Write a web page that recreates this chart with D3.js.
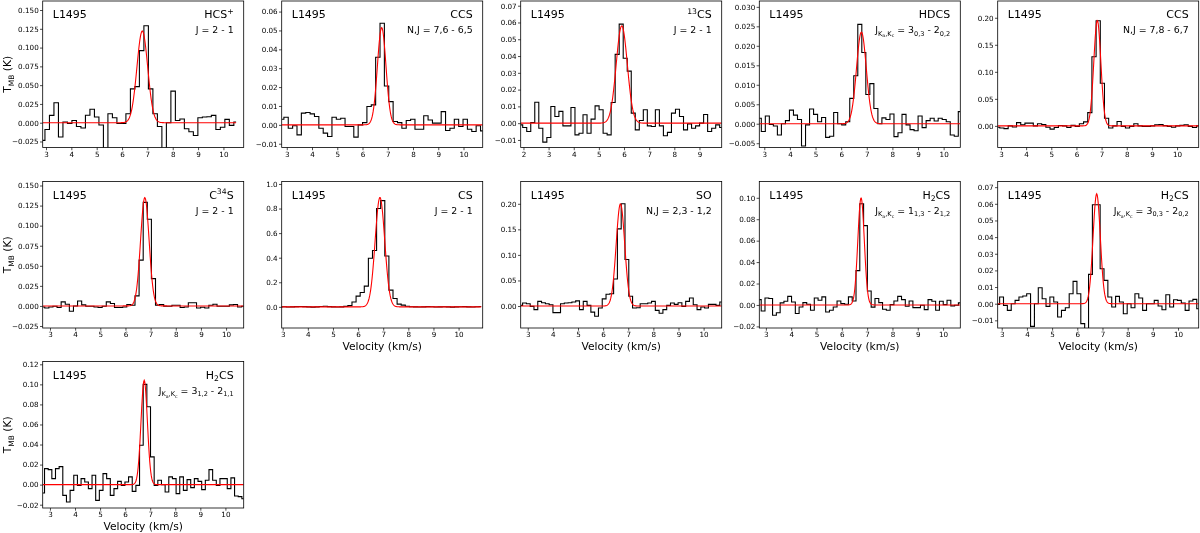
<!DOCTYPE html>
<html><head><meta charset="utf-8">
<script src="https://cdn.jsdelivr.net/npm/d3@7"></script>
<style>
body{margin:0;background:#fff}
svg{display:block;will-change:transform}
text{font-family:"DejaVu Sans",sans-serif;fill:#000}
</style>
</head><body>
<svg id="chart" width="1200" height="533"></svg>
<script>
// ---------------- DATA ----------------
const sourceName = "L1495";

// species label segments: [text, style]  (style: n / sup / sub / subsub)
const speciesLabels = [
  [["HCS","n"],["+","sup"]],
  [["CCS","n"]],
  [["13","sup"],["CS","n"]],
  [["HDCS","n"]],
  [["CCS","n"]],
  [["C","n"],["34","sup"],["S","n"]],
  [["CS","n"]],
  [["SO","n"]],
  [["H","n"],["2","sub"],["CS","n"]],
  [["H","n"],["2","sub"],["CS","n"]],
  [["H","n"],["2","sub"],["CS","n"]]
];
const transitionLabels = [
  [["J = 2 - 1","n"]],
  [["N,J = 7,6 - 6,5","n"]],
  [["J = 2 - 1","n"]],
  [["J","n"],["K","sub"],["a","subsub"],[",K","sub"],["c","subsub"],[" = 3","n"],["0,3","sub"],[" - 2","n"],["0,2","sub"]],
  [["N,J = 7,8 - 6,7","n"]],
  [["J = 2 - 1","n"]],
  [["J = 2 - 1","n"]],
  [["N,J = 2,3 - 1,2","n"]],
  [["J","n"],["K","sub"],["a","subsub"],[",K","sub"],["c","subsub"],[" = 1","n"],["1,3","sub"],[" - 2","n"],["1,2","sub"]],
  [["J","n"],["K","sub"],["a","subsub"],[",K","sub"],["c","subsub"],[" = 3","n"],["0,3","sub"],[" - 2","n"],["0,2","sub"]],
  [["J","n"],["K","sub"],["a","subsub"],[",K","sub"],["c","subsub"],[" = 3","n"],["1,2","sub"],[" - 2","n"],["1,1","sub"]]
];

// velocity of first and last channel (km/s)
const channelStart = [2.87, 2.80, 1.89, 2.805, 2.87, 2.71, 2.90, 2.72, 2.74, 2.84, 2.71];
const channelEnd   = [10.50, 10.76, 9.885, 10.65, 10.86, 10.70, 10.90, 10.72, 10.68, 10.82, 10.73];

// spectra (T_MB, K)
const specHCSp = [-0.0235,-0.009,0.0098,0.0266,-0.019,0.001,-0.001,0.003,-0.005,-0.007,0.010,0.018,0.0075,-0.003,-0.045,0.012,0.0066,-0.001,-0.001,0.012,0.045,0.048,0.096,0.129,0.045,0.012,-0.005,-0.045,0.0,0.042,0.003,0.005,-0.008,-0.012,-0.017,0.0066,0.0075,0.008,0.0098,-0.009,-0.006,0.0045,-0.0035,0.001];
const specCCS1 = [0.003,0.004,-0.0018,-0.0005,-0.0053,0.0062,0.0065,0.0058,0.0044,-0.0018,-0.0044,-0.0062,0.004,0.003,0.0035,-0.0009,-0.0009,-0.0065,0.0,0.0012,0.0097,0.0106,0.0358,0.0538,0.0206,0.0123,0.0018,0.0012,-0.0018,0.0023,0.003,-0.0023,-0.0023,0.0048,0.0026,0.0009,0.0009,0.007,-0.003,-0.0018,0.003,-0.0009,0.003,-0.0023,-0.0035,-0.0005,-0.0032];
const spec13CS = [-0.001,-0.0026,-0.005,0.0004,0.0125,-0.003,-0.0113,-0.0085,0.0099,0.004,0.007,-0.0016,-0.0016,0.0093,-0.007,-0.006,0.005,-0.006,0.0024,0.0103,0.008,-0.006,-0.007,0.0123,0.041,0.059,0.0387,0.031,0.006,-0.004,0.0016,0.008,-0.0016,-0.002,0.008,-0.0016,-0.0075,-0.0055,0.006,0.0083,0.004,-0.004,-0.0004,-0.003,-0.0016,0.0,0.0052,-0.005,-0.003,-0.001,-0.0026];
const specHDCS = [0.0014,-0.002,0.002,-0.0002,-0.0006,-0.0029,0.0,0.0008,0.0035,0.0022,0.0011,-0.0057,-0.0003,0.0038,0.0024,0.0005,0.0016,-0.0035,-0.0032,0.0029,0.0,-0.0003,0.0005,0.0065,0.0123,0.0255,0.0183,0.0075,0.0103,0.0039,0.0,0.0015,0.0011,0.0025,-0.0033,-0.0023,0.0024,-0.0003,-0.0015,-0.0018,0.002,-0.001,0.0008,0.0014,0.0007,0.0014,0.0011,0.0005,-0.0029,-0.0032,0.0031];
const specCCS2 = [-0.0025,-0.004,-0.005,0.0,-0.002,0.006,0.002,0.005,0.005,0.0,0.004,0.0025,-0.0025,-0.006,-0.003,0.0006,0.0,-0.003,0.001,-0.001,0.004,0.0074,0.0246,0.128,0.1945,0.0788,0.014,-0.004,0.0,0.008,-0.001,-0.004,-0.001,0.004,0.0,-0.001,-0.001,0.0,0.002,0.0025,0.0005,-0.001,-0.0025,0.0,0.001,0.002,-0.001,-0.003,0.0];
const specC34S = [-0.0013,-0.0025,-0.0013,-0.0004,-0.002,0.005,0.002,-0.0067,0.0,0.0062,0.0013,-0.0004,-0.0004,-0.0013,-0.002,-0.0004,0.005,0.003,-0.002,-0.002,-0.0013,0.0017,0.0008,0.0125,0.057,0.129,0.108,0.034,0.001,0.0017,-0.0004,-0.0004,0.0008,0.0008,-0.002,-0.0013,0.004,0.004,-0.0025,-0.0017,-0.0025,0.0008,0.002,-0.0004,-0.0004,-0.0004,0.0013,0.0017,-0.0013,-0.0004];
const specCS = [0.0,0.001,-0.001,0.0,0.002,0.003,0.002,0.0,-0.002,0.0,0.003,0.005,0.002,0.0,-0.001,0.0,0.004,0.01,0.04,0.087,0.117,0.169,0.395,0.458,0.80,0.864,0.414,0.136,0.068,0.022,0.014,0.005,0.001,0.0,-0.001,0.0,0.002,0.001,-0.001,0.0,0.001,0.0,-0.002,0.0,0.001,0.002,0.0,-0.001,0.001,0.003];
const specSO = [0.0013,0.006,0.0045,-0.0007,-0.007,0.009,0.0065,0.0045,0.0026,-0.013,-0.013,0.0045,0.0058,0.0065,0.008,0.01,-0.007,0.009,0.0013,-0.012,-0.02,-0.004,0.014,0.023,0.024,0.053,0.151,0.2,0.091,0.019,-0.004,-0.0033,0.0045,0.0045,0.006,0.009,-0.0085,-0.014,-0.007,0.0013,0.006,0.0033,0.0065,-0.0007,0.009,0.0156,0.0026,-0.007,-0.002,-0.004,0.0033,0.0033,0.0013,0.008];
const specH2CSa = [0.005,-0.0056,0.0065,0.006,-0.0096,-0.0072,0.0019,0.0034,0.008,0.0028,-0.008,-0.0019,0.0022,0.0006,-0.005,0.0065,0.0044,0.0075,-0.0065,-0.005,-0.0019,0.0037,0.0012,0.0006,0.0075,0.0037,0.032,0.0945,0.074,0.013,-0.002,0.006,0.0022,-0.004,-0.005,0.0003,0.0037,0.008,0.005,-0.0012,0.0037,-0.0025,-0.0025,-0.0003,-0.0044,0.005,0.0034,-0.005,0.0034,0.0003,0.0044,-0.0009,-0.0003,0.0019];
const specH2CSb = [-0.0004,0.004,-0.001,-0.004,0.0,0.002,0.004,0.0046,0.006,-0.0136,0.0,0.0096,0.003,-0.0016,0.004,0.001,-0.008,-0.004,-0.0024,0.006,0.0134,0.006,-0.012,-0.02,0.0176,0.0594,0.0594,0.021,0.014,0.004,-0.002,0.0044,0.001,-0.006,0.0,-0.0024,0.006,0.0034,-0.004,0.0,0.0,0.002,-0.0014,-0.0036,0.0054,-0.002,0.0024,0.002,0.0004,-0.004,0.0016,0.0026,-0.003];
const specH2CSc = [-0.0083,0.016,0.015,0.006,0.016,0.018,-0.0107,-0.0173,-0.0057,0.0093,-0.0007,0.006,0.0027,-0.004,0.0093,-0.0157,-0.0057,0.011,0.006,-0.0107,-0.004,0.0033,-0.0007,0.0027,0.0077,-0.0067,-0.0007,0.0393,0.1,0.0777,0.0277,-0.0007,0.0043,0.0,-0.0073,0.0077,0.006,-0.009,0.0077,-0.0057,0.005,-0.003,0.006,0.0033,-0.005,0.0043,0.015,0.0043,-0.0007,0.006,0.006,-0.004,0.0067,-0.0113,-0.012,-0.014];
const spectra = [specHCSp, specCCS1, spec13CS, specHDCS, specCCS2, specC34S, specCS, specSO, specH2CSa, specH2CSb, specH2CSc];

// Gaussian fit parameters
const fitAmp    = [0.122, 0.0515, 0.058, 0.0235, 0.195, 0.135, 0.89, 0.20, 0.100, 0.066, 0.104];
const fitCenter = [6.80, 6.76, 5.91, 6.79, 6.83, 6.77, 6.87, 6.69, 6.76, 6.77, 6.76];
const fitFwhm   = [0.50, 0.40, 0.52, 0.45, 0.33, 0.40, 0.45, 0.40, 0.30, 0.34, 0.30];

// axis limits
const xMin = [2.87, 2.80, 1.89, 2.805, 2.87, 2.71, 2.96, 2.72, 2.74, 2.84, 2.71];
const xMax = [10.80, 10.76, 9.885, 10.65, 10.86, 10.70, 10.96, 10.72, 10.68, 10.82, 10.73];
const yMin = [-0.033, -0.012, -0.0145, -0.0061, -0.040, -0.0275, -0.172, -0.043, -0.0215, -0.0146, -0.0233];
const yMax = [0.162, 0.0656, 0.0728, 0.0315, 0.231, 0.155, 1.02, 0.2436, 0.1152, 0.0734, 0.1228];

// tick labels
const xTicksA = [3,4,5,6,7,8,9,10];
const xTicksB = [2,3,4,5,6,7,8,9];
const xTickSets = [xTicksA, xTicksA, xTicksB, xTicksA, xTicksA, xTicksA, xTicksA, xTicksA, xTicksA, xTicksA, xTicksA];
const yTickSets = [
  [-0.025,0,0.025,0.05,0.075,0.1,0.125,0.15],
  [-0.01,0,0.01,0.02,0.03,0.04,0.05,0.06],
  [-0.01,0,0.01,0.02,0.03,0.04,0.05,0.06,0.07],
  [-0.005,0,0.005,0.01,0.015,0.02,0.025,0.03],
  [0,0.05,0.1,0.15,0.2],
  [-0.025,0,0.025,0.05,0.075,0.1,0.125,0.15],
  [0,0.2,0.4,0.6,0.8,1.0],
  [0,0.05,0.1,0.15,0.2],
  [-0.02,0,0.02,0.04,0.06,0.08,0.1],
  [-0.01,0,0.01,0.02,0.03,0.04,0.05,0.06,0.07],
  [-0.02,0,0.02,0.04,0.06,0.08,0.1,0.12]
];
const yTickFormats = [".3f",".2f",".2f",".3f",".2f",".3f",".1f",".2f",".2f",".2f",".2f"];
const xAxisTitle = "Velocity (km/s)";
const showXTitle = [false,false,false,false,false,false,true,true,true,true,true];
const showYTitle = [true,false,false,false,false,true,false,false,false,false,true];

// ---------------- LAYOUT ----------------
const colLeft = [42.7, 281.7, 520.7, 759.3, 997.7];
const rowTop = [1, 181.5, 361.5];
const PW = 201, PH = 146.5;

const svg = d3.select("#chart");

function richText(sel, segs, base) {
  let cur = 0;
  const shifts = {n:0, sup:-0.42*base, sub:0.24*base, subsub:0.42*base};
  const sizes = {n:base, sup:base*0.7, sub:base*0.7, subsub:base*0.5};
  segs.forEach(([t, st]) => {
    const target = shifts[st];
    sel.append("tspan")
      .attr("dy", target - cur)
      .style("font-size", sizes[st] + "px")
      .text(t);
    cur = target;
  });
}

spectra.forEach((spec, i) => {
  const col = i % 5, row = Math.floor(i / 5);
  const L = colLeft[col], T = rowTop[row];
  const g = svg.append("g").attr("transform", `translate(${L},${T})`);

  const x = d3.scaleLinear().domain([xMin[i], xMax[i]]).range([0, PW]);
  const y = d3.scaleLinear().domain([yMin[i], yMax[i]]).range([PH, 0]);

  const clipId = "clip" + i;
  g.append("clipPath").attr("id", clipId)
    .append("rect").attr("x", 0).attr("y", 0).attr("width", PW).attr("height", PH);

  const n = spec.length;
  const dv = (channelEnd[i] - channelStart[i]) / (n - 1);
  const pts = spec.map((t, k) => [channelStart[i] + k * dv, t]);

  const plot = g.append("g").attr("clip-path", `url(#${clipId})`);
  plot.append("path")
    .datum(pts)
    .attr("fill", "none")
    .attr("stroke", "#000")
    .attr("stroke-width", 1.1)
    .attr("stroke-linejoin", "miter")
    .attr("d", d3.line().x(d => x(d[0])).y(d => y(d[1])).curve(d3.curveStep));

  const fitPts = d3.range(0, 401).map(k => {
    const v = channelStart[i] + k * (channelEnd[i] - channelStart[i]) / 400;
    const t = fitAmp[i] * Math.exp(-4 * Math.LN2 * Math.pow(v - fitCenter[i], 2) / Math.pow(fitFwhm[i], 2));
    return [v, t];
  });
  plot.append("path")
    .datum(fitPts)
    .attr("fill", "none")
    .attr("stroke", "#ff0000")
    .attr("stroke-width", 1.1)
    .attr("d", d3.line().x(d => x(d[0])).y(d => y(d[1])));

  // axes
  const ax = g.append("g").attr("transform", `translate(0,${PH})`)
    .call(d3.axisBottom(x).tickValues(xTickSets[i]).tickFormat(d3.format("d")).tickSize(2.7).tickPadding(1.3));
  const ay = g.append("g")
    .call(d3.axisLeft(y).tickValues(yTickSets[i]).tickFormat(d3.format(yTickFormats[i])).tickSize(2.7).tickPadding(1.3));
  [ax, ay].forEach(a => {
    a.select(".domain").remove();
    a.selectAll("line").attr("stroke", "#000").attr("stroke-width", 0.7);
    a.selectAll("text").style("font-size", "7.2px").style("font-family", "DejaVu Sans").attr("fill", "#000");
  });

  g.append("rect").attr("x", 0).attr("y", 0).attr("width", PW).attr("height", PH)
    .attr("fill", "none").attr("stroke", "#000").attr("stroke-width", 0.8);

  // annotations
  g.append("text").attr("x", PW * 0.05).attr("y", 17.3)
    .style("font-size", "11px").text(sourceName);
  const sp = g.append("text").attr("x", PW * 0.95).attr("y", 17.3)
    .attr("text-anchor", "end").style("font-size", "11px");
  richText(sp, speciesLabels[i], 11);
  const tr = g.append("text").attr("x", PW * 0.95).attr("y", 32.3)
    .attr("text-anchor", "end").style("font-size", "9.4px");
  richText(tr, transitionLabels[i], 9.4);

  if (showXTitle[i]) {
    g.append("text").attr("x", PW / 2).attr("y", PH + 21.8)
      .attr("text-anchor", "middle").style("font-size", "10.7px").text(xAxisTitle);
  }
  if (showYTitle[i]) {
    const yt = svg.append("text")
      .attr("transform", `translate(11,${T + PH / 2}) rotate(-90)`)
      .attr("text-anchor", "middle").style("font-size", "10.7px");
    richText(yt, [["T","n"],["MB","sub"],[" (K)","n"]], 10.7);
  }
});
</script>
</body></html>
